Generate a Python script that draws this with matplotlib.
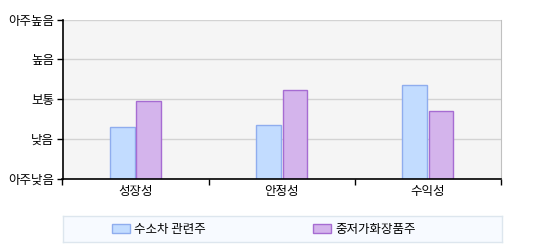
import matplotlib
matplotlib.use("Agg")
import matplotlib.pyplot as plt
import numpy as np
from matplotlib.patches import Patch

plt.rcParams['font.family'] = ['Noto Sans CJK KR', 'DejaVu Sans']

categories = ['성장성', '안정성', '수익성']
series_names = ['수소차 관련주', '중저가화장품주']
hydrogen = [1.30, 1.35, 2.35]
cosmetics = [1.95, 2.22, 1.70]
y_labels = ['아주낮음', '낮음', '보통', '높음', '아주높음']

fill_colors = ['#c2dcff', '#d4b4ec']
edge_colors = ['#8fadee', '#a66cd2']

W, H = 544, 250
fig = plt.figure(figsize=(W / 100, H / 100), dpi=100)
ax = fig.add_axes([62.5 / W, 1 - 179 / H, (501 - 62.5) / W, (179 - 19.5) / H])
ax.set_facecolor('#f5f5f5')

x = np.arange(len(categories))
bw = 0.168
off = 0.09
ax.bar(x - off, hydrogen, width=bw, color=fill_colors[0], edgecolor=edge_colors[0], linewidth=1, zorder=3)
ax.bar(x + off, cosmetics, width=bw, color=fill_colors[1], edgecolor=edge_colors[1], linewidth=1, zorder=3)

ax.set_xlim(-0.5, len(categories) - 0.5)
ax.set_ylim(0, 4)
ax.set_yticks(range(len(y_labels)))
ax.set_yticklabels(y_labels, fontsize=9)
ax.set_xticks(x)
ax.set_xticklabels(categories, fontsize=9)
ax.set_xticks(np.arange(-0.5, len(categories), 1), minor=True)
ax.tick_params(axis='x', which='major', length=0, pad=4)
ax.tick_params(axis='x', which='minor', length=4, width=1, color='black', direction='out')
ax.tick_params(axis='y', length=4, width=1, color='black', direction='out', pad=2)
ax.yaxis.grid(True, color='#d3d3d3', linewidth=1, zorder=0)
ax.set_axisbelow(True)

ax.spines['top'].set_visible(False)
ax.spines['right'].set_color('#c0c0c0')
ax.spines['left'].set_color('black')
ax.spines['bottom'].set_color('black')
for s in ['left', 'bottom']:
    ax.spines[s].set_linewidth(1.2)
    ax.spines[s].set_zorder(4)

# legend box
lax = fig.add_axes([62.5 / W, 1 - 242 / H, (501.5 - 62.5) / W, (242 - 216) / H])
lax.set_facecolor('#f7faff')
lax.set_xticks([])
lax.set_yticks([])
for s in lax.spines.values():
    s.set_color('#dde6ee')
    s.set_linewidth(1)
handles = [Patch(facecolor=fill_colors[i], edgecolor=edge_colors[i], label=series_names[i]) for i in range(2)]
leg = lax.legend(handles=handles, loc='center left', ncol=2, frameon=False, fontsize=9,
                 handlelength=1.4, handleheight=0.7, handletextpad=0.35, columnspacing=8.6,
                 borderpad=0, borderaxespad=0,
                 bbox_to_anchor=((112.3 - 62.5) / 439, 0.5))

fig.savefig('out.png', dpi=100)
